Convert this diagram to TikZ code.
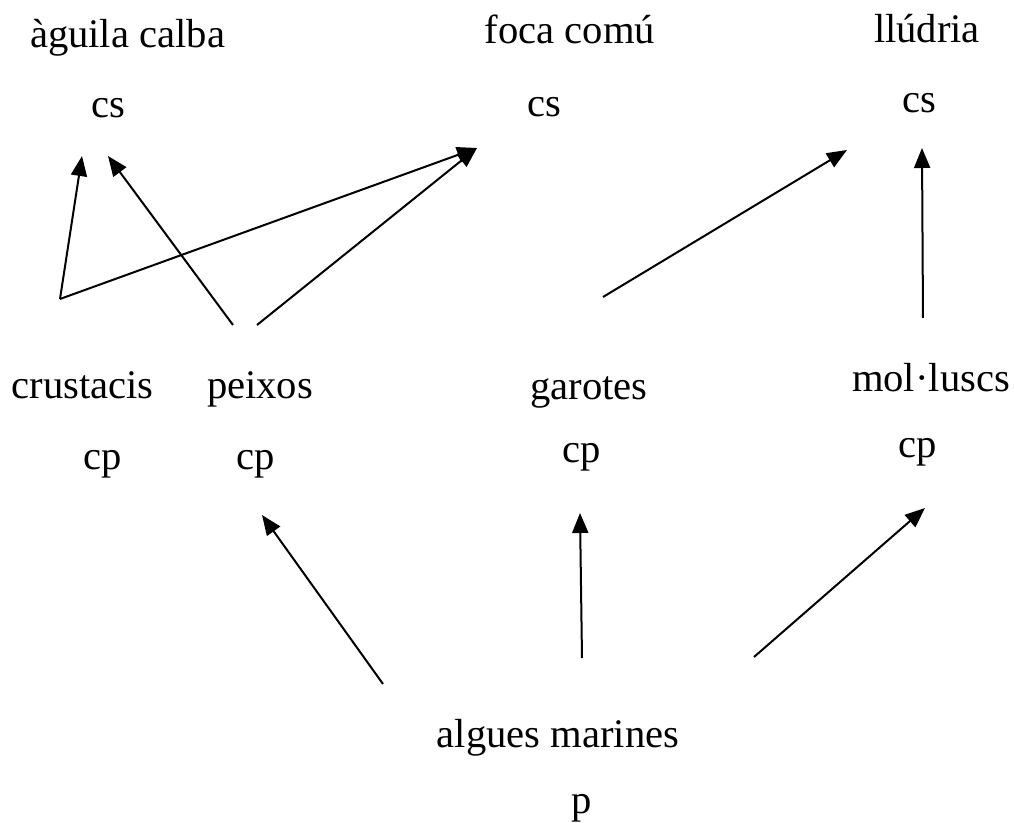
\documentclass[tikz,border=0pt]{standalone}
\usepackage{fontspec}
\setmainfont{Liberation Serif}
\usetikzlibrary{arrows.meta}
\begin{document}
\begin{tikzpicture}[x=0.5pt,y=-0.5pt,
  lbl/.style={anchor=base,inner sep=0pt,font=\fontsize{20.3}{24}\selectfont},
  arr/.style={line width=1pt,-{Triangle[length=10pt,width=8pt]}}]
\useasboundingbox (0,0) rectangle (1014,823);
% top row
\node[lbl] (aguila) at (127.5,48) {àguila calba};
\node[lbl] (cs1) at (108.5,118) {cs};
\node[lbl] (foca) at (570,44) {foca comú};
\node[lbl] (cs2) at (544,117) {cs};
\node[lbl] (lludria) at (927,43) {llúdria};
\node[lbl] (cs3) at (919,113) {cs};
% middle row
\node[lbl] (crust) at (82.5,399) {crustacis};
\node[lbl] (cp1) at (102.5,470) {cp};
\node[lbl] (peixos) at (260,399) {peixos};
\node[lbl] (cp2) at (256,470) {cp};
\node[lbl] (garotes) at (589,400) {garotes};
\node[lbl] (cp3) at (582,463) {cp};
\node[lbl] (mollu) at (931,392) {mol·luscs};
\node[lbl] (cp4) at (918,458) {cp};
% bottom
\node[lbl] (algues) at (558,748) {algues marines};
\node[lbl] (p) at (582,814) {p};
% connector end points
\coordinate (crT) at (60,299);
\coordinate (peT1) at (233,325);
\coordinate (peT2) at (257,325);
\coordinate (gaT) at (603,297);
\coordinate (moT) at (923,318);
\coordinate (agH) at (82,156);
\coordinate (agH2) at (108,156);
\coordinate (foH) at (477,148);
\coordinate (llH) at (847,150);
\coordinate (llH2) at (922,148);
\coordinate (alT1) at (383,684);
\coordinate (alT2) at (582,658);
\coordinate (alT3) at (754,657);
\coordinate (peH) at (262,515);
\coordinate (gaH) at (580,513);
\coordinate (moH) at (925,508);
% arrows
\draw[arr] (crT) -- (agH);
\draw[arr] (crT) -- (foH);
\draw[arr] (peT1) -- (agH2);
\draw[arr] (peT2) -- (foH);
\draw[arr] (gaT) -- (llH);
\draw[arr] (moT) -- (llH2);
\draw[arr] (alT1) -- (peH);
\draw[arr] (alT2) -- (gaH);
\draw[arr] (alT3) -- (moH);
\end{tikzpicture}
\end{document}
